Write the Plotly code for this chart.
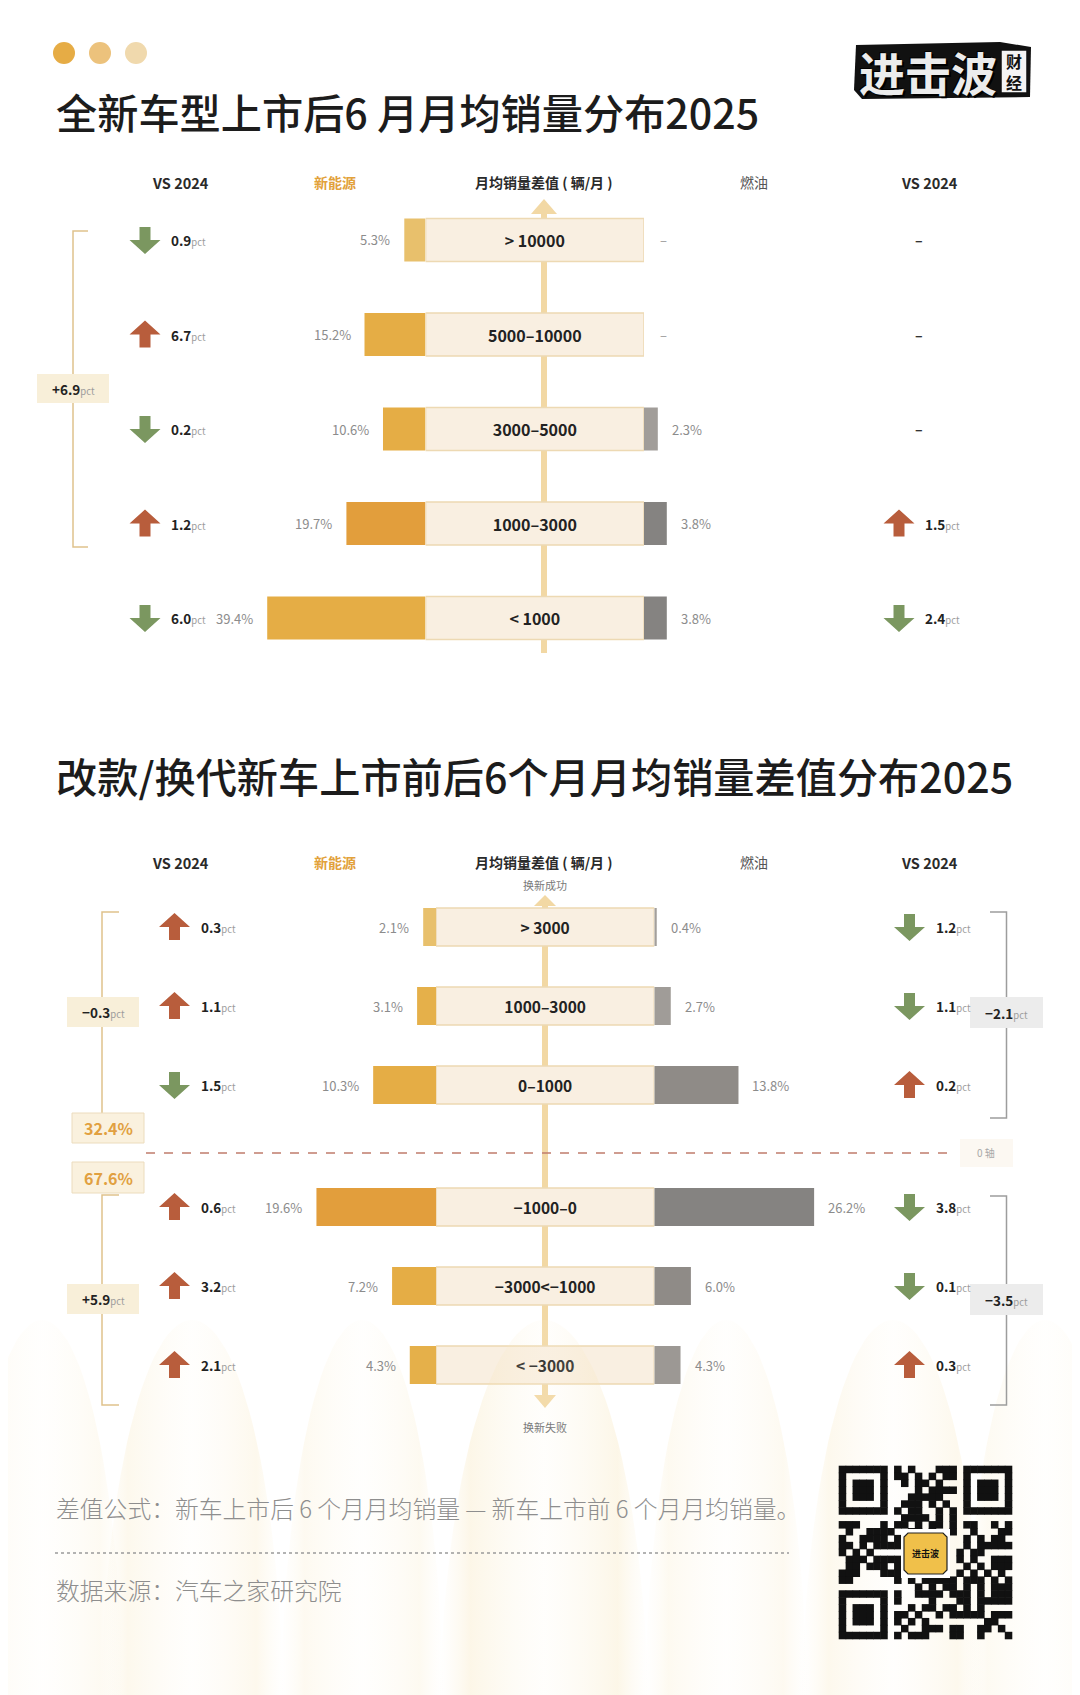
import math
import plotly.graph_objects as go

W, H = 1080, 1695
OFF = 8  # default body margin of the html page
FONT = "Noto Sans CJK SC"

# ---------------- data ----------------
top_ranges = ["> 10000", "5000–10000", "3000–5000", "1000–3000", "< 1000"]
top_nev = [5.3, 15.2, 10.6, 19.7, 39.4]
top_fuel = [None, None, 2.3, 3.8, 3.8]
top_nev_vs_dir = ["down", "up", "down", "up", "down"]
top_nev_vs = [0.9, 6.7, 0.2, 1.2, 6.0]
top_fuel_vs_dir = [None, None, None, "up", "down"]
top_fuel_vs = [None, None, None, 1.5, 2.4]
top_nev_total = "+6.9"

bot_up_ranges = ["> 3000", "1000–3000", "0–1000"]
bot_dn_ranges = ["−1000–0", "−3000<−1000", "< −3000"]
bot_up_nev = [2.1, 3.1, 10.3]
bot_dn_nev = [19.6, 7.2, 4.3]
bot_up_fuel = [0.4, 2.7, 13.8]
bot_dn_fuel = [26.2, 6.0, 4.3]
bot_up_nev_vs_dir = ["up", "up", "down"]
bot_up_nev_vs = [0.3, 1.1, 1.5]
bot_dn_nev_vs_dir = ["up", "up", "up"]
bot_dn_nev_vs = [0.6, 3.2, 2.1]
bot_up_fuel_vs_dir = ["down", "down", "up"]
bot_up_fuel_vs = [1.2, 1.1, 0.2]
bot_dn_fuel_vs_dir = ["down", "down", "up"]
bot_dn_fuel_vs = [3.8, 0.1, 0.3]
bot_totals = {"nev_up": "−0.3", "nev_dn": "+5.9", "fuel_up": "−2.1", "fuel_dn": "−3.5"}
bot_share_up = "32.4%"
bot_share_dn = "67.6%"

headers = ["VS 2024", "新能源", "月均销量差值 ( 辆/月 )", "燃油", "VS 2024"]
title1 = "全新车型上市后6 月月均销量分布2025"
title2 = "改款/换代新车上市前后6个月月均销量差值分布2025"
note1 = "差值公式：新车上市后 6 个月月均销量 — 新车上市前 6 个月月均销量。"
note2 = "数据来源：汽车之家研究院"

# ---------------- styles ----------------
top_nev_colors = ["#e8c06c", "#e5ad45", "#e5ad45", "#e29e3c", "#e5ad45"]
top_fuel_colors = ["#a19d99", "#a19d99", "#a19d99", "#858381", "#858381"]
bot_up_nev_colors = ["#e8c06c", "#e5b04a", "#e5ad45"]
bot_dn_nev_colors = ["#e29e3c", "#e5ad45", "#e5b04a"]
bot_up_fuel_colors = ["#a39f9b", "#a09c98", "#8f8b87"]
bot_dn_fuel_colors = ["#858381", "#8f8b87", "#9c9894"]
UP_C = "#b85d3c"
DN_C = "#7b9760"
CREAM = "#f9efe1"
CREAM_LINE = "#edd9b3"
TAN = "#dfc28c"


def fx(px):
    return (px - OFF) / W


def fy(py):
    return 1 - (py - OFF) / H


fig = go.Figure()

# ---------------- axes ----------------
TOP_SPLIT_L, TOP_SPLIT_R = 425.6, 644.0
BOT_SPLIT_L, BOT_SPLIT_R = 436.0, 654.3
TOP_NEV_PX, TOP_FUEL_PX = 4.02, 6.0
BOT_PX = 6.1
LEFT, RIGHT = OFF, OFF + W

ax_common = dict(visible=False, fixedrange=True)
layout_axes = dict(
    xaxis=dict(domain=[0, fx(TOP_SPLIT_L)], range=[(TOP_SPLIT_L - LEFT) / TOP_NEV_PX, 0], anchor="y", **ax_common),
    xaxis2=dict(domain=[fx(TOP_SPLIT_L), fx(TOP_SPLIT_R)], range=[0, 1], anchor="y", **ax_common),
    xaxis3=dict(domain=[fx(TOP_SPLIT_R), 1], range=[0, (RIGHT - TOP_SPLIT_R) / TOP_FUEL_PX], anchor="y", **ax_common),
    xaxis4=dict(domain=[0, fx(BOT_SPLIT_L)], range=[(BOT_SPLIT_L - LEFT) / BOT_PX, 0], anchor="y2", **ax_common),
    xaxis5=dict(domain=[fx(BOT_SPLIT_L), fx(BOT_SPLIT_R)], range=[0, 1], anchor="y2", **ax_common),
    xaxis6=dict(domain=[fx(BOT_SPLIT_R), 1], range=[0, (RIGHT - BOT_SPLIT_R) / BOT_PX], anchor="y2", **ax_common),
    xaxis7=dict(domain=[0, 1], range=[OFF, OFF + W], anchor="y4", **ax_common),
    yaxis=dict(domain=[fy(665.25), fy(192.75)], type="category", categoryorder="array",
               categoryarray=top_ranges, range=[len(top_ranges) - 0.5, -0.5], anchor="x", **ax_common),
    yaxis2=dict(domain=[fy(1124.5), fy(887.5)], type="category", categoryorder="array",
                categoryarray=bot_up_ranges, range=[len(bot_up_ranges) - 0.5, -0.5], anchor="x4", **ax_common),
    yaxis3=dict(domain=[fy(1404.5), fy(1167.5)], type="category", categoryorder="array",
                categoryarray=bot_dn_ranges, range=[len(bot_dn_ranges) - 0.5, -0.5], anchor="x4", **ax_common),
    yaxis4=dict(domain=[0, 1], range=[OFF + H, OFF], anchor="x7", **ax_common),
)

# ---------------- background petals (decoration) ----------------
petals = [(544, 105, 0.26), (362, 82, 0.16), (726, 82, 0.16), (192, 92, 0.2),
          (893, 92, 0.2), (42, 82, 0.14), (1045, 82, 0.14)]
for cx, a, alpha in petals:
    xs, ys = [], []
    for k in range(121):
        t = 2 * math.pi * k / 120
        xs.append(cx + a * math.cos(t))
        ys.append(1740 + 420 * math.sin(t))
    fig.add_trace(go.Scatter(
        x=xs, y=ys, xaxis="x7", yaxis="y4", mode="lines", line=dict(width=0),
        fill="toself", hoverinfo="skip",
        fillgradient=dict(type="horizontal", colorscale=[
            [0, "rgba(250,236,200,0)"],
            [0.15, f"rgba(245,222,165,{alpha})"],
            [0.5, f"rgba(252,244,225,{alpha * 0.4})"],
            [0.85, f"rgba(245,222,165,{alpha})"],
            [1, "rgba(250,236,200,0)"]]),
    ))


# ---------------- bars ----------------
def hbar(vals, cats, xa, ya, colors, width):
    return go.Bar(orientation="h", x=vals, y=cats, xaxis=xa, yaxis=ya,
                  marker=dict(color=colors, line=dict(width=0)), width=width, hoverinfo="skip")


def label_bar(cats, xa, ya, width, size):
    return go.Bar(orientation="h", x=[1] * len(cats), y=cats, xaxis=xa, yaxis=ya, width=width,
                  marker=dict(color=CREAM, line=dict(color=CREAM_LINE, width=1.5)),
                  text=[f"<b>{c}</b>" for c in cats], textposition="inside", insidetextanchor="middle",
                  textangle=0, constraintext="none",
                  textfont=dict(family=FONT, size=size, color="#222222"), hoverinfo="skip")


TOP_BW = 43 / 94.5
BOT_BW = 38 / 79.0
fig.add_trace(hbar(top_nev, top_ranges, "x", "y", top_nev_colors, TOP_BW))
fig.add_trace(label_bar(top_ranges, "x2", "y", TOP_BW, 16))
fig.add_trace(hbar(top_fuel, top_ranges, "x3", "y", top_fuel_colors, TOP_BW))

fig.add_trace(hbar(bot_up_nev, bot_up_ranges, "x4", "y2", bot_up_nev_colors, BOT_BW))
fig.add_trace(label_bar(bot_up_ranges, "x5", "y2", BOT_BW, 15.5))
fig.add_trace(hbar(bot_up_fuel, bot_up_ranges, "x6", "y2", bot_up_fuel_colors, BOT_BW))
fig.add_trace(hbar(bot_dn_nev, bot_dn_ranges, "x4", "y3", bot_dn_nev_colors, BOT_BW))
fig.add_trace(label_bar(bot_dn_ranges, "x5", "y3", BOT_BW, 15.5))
fig.add_trace(hbar(bot_dn_fuel, bot_dn_ranges, "x6", "y3", bot_dn_fuel_colors, BOT_BW))

# ---------------- QR code (decoration) ----------------
N = 25
seed = ("进击波财经 汽车之家研究院 全新车型上市后月均销量 改款换代新车上市前后").encode("utf-8")
bits = "".join(f"{b:08b}" for b in seed)


def in_finder(r, c):
    for r0, c0 in [(0, 0), (0, N - 7), (N - 7, 0)]:
        if r0 - 1 <= r <= r0 + 7 and c0 - 1 <= c <= c0 + 7:
            return (r0, c0)
    return None


QX0, QY0, QS = 839, 1466, 173
d = QS / N
qx, qy = [], []
bi = 0
for r in range(N):
    for c in range(N):
        f = in_finder(r, c)
        if f:
            rr, cc = r - f[0], c - f[1]
            on = 0 <= rr <= 6 and 0 <= cc <= 6 and (rr in (0, 6) or cc in (0, 6) or (2 <= rr <= 4 and 2 <= cc <= 4))
        else:
            on = int(bits[bi % len(bits)]) ^ ((r * c) % 2 if (r + c) % 3 == 0 else 0)
            bi += 7
        if on:
            qx.append(QX0 + d * (c + 0.5))
            qy.append(QY0 + d * (r + 0.5))
fig.add_trace(go.Scatter(x=qx, y=qy, xaxis="x7", yaxis="y4", mode="markers", hoverinfo="skip",
                         marker=dict(symbol="square", size=d + 0.6, color="#111111", line=dict(width=0))))

# ---------------- shapes & annotations ----------------
shapes = []
ann = []


def path(pts, close=False):
    s = "M " + " L ".join(f"{fx(x):.5f},{fy(y):.5f}" for x, y in pts)
    return s + (" Z" if close else "")


def line_shape(pts, color, width=1.5, dash="solid", layer="above"):
    shapes.append(dict(type="path", xref="paper", yref="paper", path=path(pts),
                       line=dict(color=color, width=width, dash=dash), layer=layer))


def poly_shape(pts, fill, layer="above", lc=None, lw=0):
    shapes.append(dict(type="path", xref="paper", yref="paper", path=path(pts, True),
                       fillcolor=fill, line=dict(color=lc or fill, width=lw), layer=layer))


def rect(x0, y0, x1, y1, fill, lc=None, lw=0, layer="above"):
    shapes.append(dict(type="rect", xref="paper", yref="paper", x0=fx(x0), x1=fx(x1), y0=fy(y1), y1=fy(y0),
                       fillcolor=fill, line=dict(color=lc or fill, width=lw), layer=layer))


def text(x, y, s, size, color="#222", anchor="center", weight=None, yanchor="middle", **kw):
    f = dict(family=FONT, size=size, color=color)
    if weight:
        f["weight"] = weight
    ann.append(dict(xref="paper", yref="paper", x=fx(x), y=fy(y), text=s, showarrow=False,
                    xanchor=anchor, yanchor=yanchor, font=f, **kw))


def pct_html(v):
    return f"<b>{v}</b><span style='font-size:9.5px;color:#9c9c9c'>pct</span>"


def arrow(xpx, yref, cat, direction):
    pts = [(-5.5, -13), (5.5, -13), (5.5, 0), (15.5, 0), (0, 14), (-15.5, 0), (-5.5, 0)]
    if direction == "down":
        pts = [(x, -y) for x, y in pts]
    p = "M " + " L ".join(f"{x},{y}" for x, y in pts) + " Z"
    shapes.append(dict(type="path", xref="paper", yref=yref, xsizemode="pixel", ysizemode="pixel",
                       xanchor=fx(xpx), yanchor=cat, path=p,
                       fillcolor=UP_C if direction == "up" else DN_C, line=dict(width=0)))


def vs_item(xa, xt, yref, cat, direction, val):
    if direction is None:
        ann.append(dict(xref="paper", yref=yref, x=fx(xa + 20), y=cat, text="<b>–</b>", showarrow=False,
                        xanchor="center", font=dict(family=FONT, size=14, color="#333")))
        return
    arrow(xa, yref, cat, direction)
    ann.append(dict(xref="paper", yref=yref, x=fx(xt), y=cat, text=pct_html(val), showarrow=False,
                    xanchor="left", font=dict(family=FONT, size=13.5, color="#222")))


def side_labels(vals, cats, xref, yref, side):
    for v, c in zip(vals, cats):
        if v is None:
            ann.append(dict(xref=xref, yref=yref, x=0, y=c, text="–", showarrow=False, xanchor="left",
                            xshift=14, font=dict(family=FONT, size=13, color="#9a9a9a")))
        else:
            ann.append(dict(xref=xref, yref=yref, x=v, y=c, text=f"{v}%", showarrow=False,
                            xanchor="right" if side == "left" else "left",
                            xshift=-12 if side == "left" else 12,
                            font=dict(family=FONT, size=13, color="#8c8c8c")))


# top decorations: dots, title, logo
for cx, col in [(64, "#e6ac45"), (100, "#ecc27c"), (136, "#f0d9ad")]:
    shapes.append(dict(type="circle", xref="paper", yref="paper", x0=fx(cx - 11), x1=fx(cx + 11),
                       y0=fy(64), y1=fy(42), fillcolor=col, line=dict(width=0)))
text(54, 111, title1, 41.2, "#1c1c1c", anchor="left", weight=500)
text(54, 775, title2, 41.2, "#1c1c1c", anchor="left", weight=500)

# logo
poly_shape([(856, 45), (1000, 42), (1031, 47), (1030, 97), (862, 99), (854, 90)], "#111111")
ann.append(dict(xref="paper", yref="paper", x=fx(928), y=fy(71), text="<b>进击波</b>", showarrow=False,
                xanchor="center", yanchor="middle",
                font=dict(family=FONT, size=46, color="#ececec", weight=900,
                          shadow="2px 2px 0px #000, -1px -1px 0px #000")))
rect(1001, 50, 1027, 93, "#f4f4f4", "#111", 1.5)
text(1014, 71.5, "<b>财<br>经</b>", 16, "#111", weight=900)

# headers
for yh in (182, 862):
    for (xh, s, col) in zip([180, 335, 544, 754, 929], headers,
                            ["#2a2a2a", "#e2a13a", "#2a2a2a", "#555555", "#2a2a2a"]):
        text(xh, yh, f"<b>{s}</b>" if col != "#555555" else s, 14 if "VS" not in s else 14.5, col)

# central axes (below bars)
AXC = "#f2d8a4"
line_shape([(544, 212), (544, 653)], AXC, 6, layer="below")
poly_shape([(544, 199), (557, 214), (531, 214)], AXC, layer="below")
line_shape([(545, 903), (545, 1396)], AXC, 6, layer="below")
poly_shape([(545, 895), (556, 906), (534, 906)], AXC, layer="below")
poly_shape([(545, 1408), (556, 1395), (534, 1395)], AXC, layer="below")
text(545, 885, "换新成功", 11, "#7a7a7a")
text(545, 1427, "换新失败", 11, "#7a7a7a")

# top bracket
line_shape([(88, 231), (73, 231), (73, 547), (88, 547)], TAN, 1.5)
rect(37, 374, 109, 403, "#f8efd9")
text(73, 388.5, pct_html(top_nev_total), 13.5, "#222")

# bottom left brackets
line_shape([(119, 912), (102, 912), (102, 1113)], TAN, 1.5)
line_shape([(119, 1195), (102, 1195), (102, 1405), (119, 1405)], TAN, 1.5)
rect(67, 997, 139, 1027, "#f8efd9")
text(103, 1012, pct_html(bot_totals["nev_up"]), 13.5, "#222")
rect(67, 1284, 139, 1314, "#f8efd9")
text(103, 1299, pct_html(bot_totals["nev_dn"]), 13.5, "#222")
rect(72, 1113, 144, 1143, "#faf1de", "#ecdcbd", 1)
text(108, 1128, f"<b>{bot_share_up}</b>", 16, "#e1a040")
rect(72, 1162, 144, 1193, "#faf1de", "#ecdcbd", 1)
text(108, 1177.5, f"<b>{bot_share_dn}</b>", 16, "#e1a040")

# bottom right brackets
GR = "#9d9d9d"
line_shape([(990, 912), (1006.5, 912), (1006.5, 1118), (990, 1118)], GR, 1.5)
line_shape([(990, 1196), (1006.5, 1196), (1006.5, 1405), (990, 1405)], GR, 1.5)
rect(970, 997, 1043, 1028, "#ececec")
text(1006.5, 1012.5, pct_html(bot_totals["fuel_up"]), 13.5, "#222")
rect(970, 1284, 1043, 1315, "#ececec")
text(1006.5, 1299.5, pct_html(bot_totals["fuel_dn"]), 13.5, "#222")

# zero line
line_shape([(146, 1153), (955, 1153)], "#c07c6c", 1.6, dash="dash")
rect(960, 1139, 1013, 1167, "#fcf8f2")
text(986, 1152, "0 轴", 10, "#a8a8a8")

# VS items
for cat, dr, v in zip(top_ranges, top_nev_vs_dir, top_nev_vs):
    vs_item(145, 169, "y", cat, dr, v)
for cat, dr, v in zip(top_ranges, top_fuel_vs_dir, top_fuel_vs):
    vs_item(899, 923, "y", cat, dr, v)
for cat, dr, v in zip(bot_up_ranges, bot_up_nev_vs_dir, bot_up_nev_vs):
    vs_item(174.5, 199, "y2", cat, dr, v)
for cat, dr, v in zip(bot_dn_ranges, bot_dn_nev_vs_dir, bot_dn_nev_vs):
    vs_item(174.5, 199, "y3", cat, dr, v)
for cat, dr, v in zip(bot_up_ranges, bot_up_fuel_vs_dir, bot_up_fuel_vs):
    vs_item(909.5, 933.5, "y2", cat, dr, v)
for cat, dr, v in zip(bot_dn_ranges, bot_dn_fuel_vs_dir, bot_dn_fuel_vs):
    vs_item(909.5, 933.5, "y3", cat, dr, v)

# percentage labels
side_labels(top_nev, top_ranges, "x", "y", "left")
side_labels(top_fuel, top_ranges, "x3", "y", "right")
side_labels(bot_up_nev, bot_up_ranges, "x4", "y2", "left")
side_labels(bot_dn_nev, bot_dn_ranges, "x4", "y3", "left")
side_labels(bot_up_fuel, bot_up_ranges, "x6", "y2", "right")
side_labels(bot_dn_fuel, bot_dn_ranges, "x6", "y3", "right")

# footer
text(54, 1507, note1, 23.8, "#8e8e8e", anchor="left", weight=300)
line_shape([(55, 1553), (789, 1553)], "#9a9a9a", 1.6, dash="dot")
text(54, 1589, note2, 23.8, "#8e8e8e", anchor="left", weight=300)

# QR center logo
rect(901, 1529, 950, 1578, "#ffffff")
shapes.append(dict(type="path", xref="paper", yref="paper",
                   path=path([(908, 1533), (943, 1533), (947, 1537), (947, 1570), (943, 1574),
                              (908, 1574), (904, 1570), (904, 1537)], True),
                   fillcolor="#f0c04a", line=dict(color="#222", width=1.2)))
text(925.5, 1553.5, "<b>进击波</b>", 9, "#111")

fig.update_layout(
    width=W, height=H, margin=dict(l=0, r=0, t=0, b=0), autosize=False,
    paper_bgcolor="#ffffff", plot_bgcolor="rgba(0,0,0,0)", showlegend=False,
    barmode="overlay", shapes=shapes, annotations=ann,
    font=dict(family=FONT), **layout_axes,
)

fig.write_html("out.html")
